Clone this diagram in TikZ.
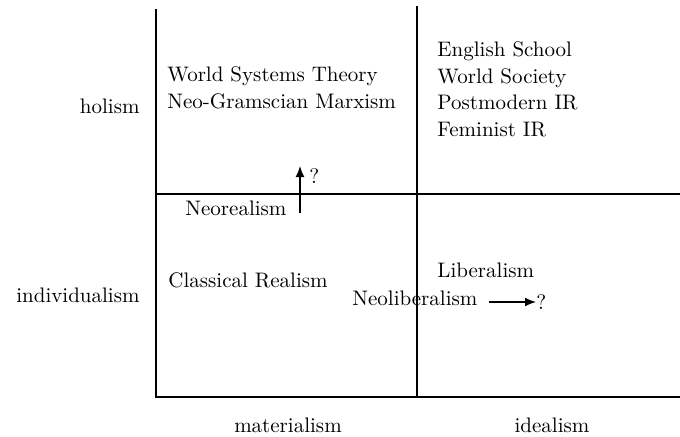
\documentclass[tikz,border=0pt]{standalone}
\usetikzlibrary{arrows.meta, positioning}

\begin{document}
\begin{tikzpicture}[
    x=0.5pt, y=-0.5pt,
    % Define text styles
    theory/.style={
        anchor=base west,
        inner sep=0pt,
        align=left,
        font=\fontsize{10.5}{13.2}\selectfont
    },
    dimension/.style={
        anchor=base east,
        inner sep=0pt,
        font=\fontsize{10.5}{13.2}\selectfont
    },
    pole/.style={
        anchor=base,
        inner sep=0pt,
        font=\fontsize{10.5}{13.2}\selectfont
    },
    axisline/.style={line width=0.6pt},
    drift/.style={line width=0.6pt, -{Latex[length=5.5pt, width=4.4pt]}}
]
    \useasboundingbox (0, 0) rectangle (680, 436);

    % =================================================================
    % --- Axes of the two-by-two table ---
    % =================================================================
    \coordinate (left_top) at (156, 9);
    \coordinate (left_bottom) at (156, 397);
    \coordinate (mid_top) at (417, 6);
    \coordinate (mid_bottom) at (417, 397);
    \coordinate (mid_left) at (156, 194);
    \coordinate (mid_right) at (680, 194);
    \coordinate (bottom_right) at (680, 397);

    \draw[axisline] (left_top) -- (left_bottom) -- (bottom_right);
    \draw[axisline] (mid_top) -- (mid_bottom);
    \draw[axisline] (mid_left) -- (mid_right);

    % Dimension labels
    \node[dimension] (holism) at (140, 113) {holism};
    \node[dimension] (individualism) at (140, 302) {individualism};
    \node[pole] (materialism) at (288, 432) {materialism};
    \node[pole] (idealism) at (552, 432) {idealism};

    % =================================================================
    % --- Theories in the quadrants (base = last line) ---
    % =================================================================
    \node[theory] (world_systems) at (167, 108) {World Systems Theory\\Neo-Gramscian Marxism};
    \node[theory] (english_school) at (437, 136) {English School\\World Society\\Postmodern IR\\Feminist IR};
    \node[theory] (neorealism) at (185, 215) {Neorealism};
    \node[theory] (classical) at (168, 287) {Classical Realism};
    \node[theory] (liberalism) at (437, 277) {Liberalism};
    \node[theory] (neoliberalism) at (352, 305) {Neoliberalism};

    % Question marks and drifting arrows
    \node[theory] (neorealism_q) at (309, 183) {?};
    \node[theory] (neoliberalism_q) at (536, 309) {?};
    \coordinate (neorealism_from) at (300, 213);
    \coordinate (neorealism_to) at (300, 166);
    \coordinate (neoliberalism_from) at (489, 302);

    \draw[drift] (neorealism_from) -- (neorealism_to);
    \draw[drift] (neoliberalism_from) -- (neoliberalism_q.west |- neoliberalism_from);
\end{tikzpicture}
\end{document}
